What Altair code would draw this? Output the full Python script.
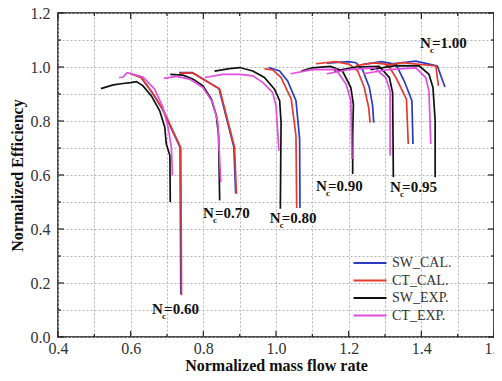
import altair as alt
import pandas as pd

# ---------------- data ----------------
series_order = ["SW_CAL.", "CT_CAL.", "SW_EXP.", "CT_EXP."]
series_colors = ["#2b3cc0", "#e63a2e", "#111111", "#e24fe0"]

# Nc = 0.60
sw_exp_060 = [(0.518, 0.920), (0.552, 0.934), (0.579, 0.939), (0.600, 0.942), (0.616, 0.946),
              (0.634, 0.930), (0.657, 0.893), (0.680, 0.838), (0.694, 0.776), (0.698, 0.715),
              (0.708, 0.672), (0.709, 0.500)]
ct_exp_060 = [(0.568, 0.961), (0.579, 0.963), (0.590, 0.979), (0.607, 0.973), (0.634, 0.963),
              (0.666, 0.918), (0.689, 0.850), (0.703, 0.776), (0.712, 0.702), (0.715, 0.598)]
ct_cal_060 = [(0.600, 0.975), (0.630, 0.960), (0.660, 0.905), (0.690, 0.840), (0.733, 0.715),
              (0.738, 0.700), (0.740, 0.155)]
sw_cal_060 = [(0.598, 0.977), (0.628, 0.962), (0.658, 0.907), (0.688, 0.842), (0.731, 0.717),
              (0.736, 0.702), (0.738, 0.158)]

# Nc = 0.70
sw_exp_070 = [(0.709, 0.973), (0.744, 0.970), (0.772, 0.955), (0.799, 0.930), (0.822, 0.881),
              (0.836, 0.819), (0.842, 0.745), (0.845, 0.506)]
ct_exp_070 = [(0.691, 0.958), (0.726, 0.965), (0.762, 0.955), (0.799, 0.924), (0.826, 0.868),
              (0.840, 0.794), (0.848, 0.573)]
ct_cal_070 = [(0.735, 0.977), (0.772, 0.977), (0.845, 0.918), (0.886, 0.702), (0.891, 0.530)]
sw_cal_070 = [(0.733, 0.979), (0.770, 0.979), (0.843, 0.920), (0.884, 0.704), (0.889, 0.532)]

# Nc = 0.80
sw_exp_080 = [(0.831, 0.985), (0.872, 0.994), (0.900, 0.998), (0.936, 0.985), (0.968, 0.961),
              (0.996, 0.918), (1.010, 0.875), (1.014, 0.794), (1.013, 0.650), (1.012, 0.475)]
ct_exp_080 = [(0.804, 0.961), (0.854, 0.973), (0.900, 0.973), (0.936, 0.967), (0.964, 0.942),
              (0.991, 0.905), (1.000, 0.856), (1.008, 0.690)]
ct_cal_080 = [(0.968, 0.994), (0.991, 0.989), (1.014, 0.961), (1.042, 0.881), (1.055, 0.745),
              (1.057, 0.478)]
sw_cal_080 = [(0.980, 0.998), (1.010, 0.985), (1.032, 0.948), (1.055, 0.875), (1.065, 0.733),
              (1.066, 0.478)]

# Nc = 0.90
sw_exp_090 = [(1.070, 0.985), (1.100, 0.997), (1.150, 1.002), (1.183, 0.985), (1.206, 0.924),
              (1.213, 0.862), (1.211, 0.752), (1.211, 0.604)]
ct_exp_090 = [(1.040, 0.975), (1.100, 0.990), (1.165, 0.991), (1.193, 0.936), (1.206, 0.875),
              (1.209, 0.659)]
ct_cal_090 = [(1.110, 1.012), (1.165, 1.020), (1.202, 1.010), (1.225, 0.985), (1.243, 0.924),
              (1.255, 0.850), (1.259, 0.794)]
sw_cal_090 = [(1.140, 1.014), (1.200, 1.020), (1.220, 1.016), (1.238, 0.991), (1.257, 0.924),
              (1.266, 0.856), (1.269, 0.794)]

# Nc = 0.95
sw_exp_095 = [(1.160, 0.985), (1.220, 1.000), (1.284, 1.002), (1.312, 0.961), (1.321, 0.905),
              (1.323, 0.592)]
ct_exp_095 = [(1.140, 0.975), (1.200, 0.990), (1.270, 0.997), (1.302, 0.961), (1.314, 0.911),
              (1.314, 0.672)]
ct_cal_095 = [(1.220, 1.005), (1.270, 1.015), (1.307, 1.010), (1.330, 0.961), (1.359, 0.881),
              (1.364, 0.715)]
sw_cal_095 = [(1.240, 1.010), (1.290, 1.020), (1.330, 1.010), (1.353, 0.948), (1.374, 0.875),
              (1.377, 0.715)]

# Nc = 1.00
sw_exp_100 = [(1.260, 0.990), (1.330, 1.005), (1.394, 1.004), (1.421, 0.973), (1.432, 0.924),
              (1.438, 0.801), (1.438, 0.592)]
ct_exp_100 = [(1.240, 0.975), (1.310, 0.990), (1.385, 0.997), (1.412, 0.961), (1.421, 0.911),
              (1.426, 0.715)]
ct_cal_100 = [(1.300, 1.005), (1.348, 1.016), (1.440, 1.004), (1.447, 0.930)]
sw_cal_100 = [(1.320, 1.012), (1.385, 1.022), (1.444, 1.004), (1.465, 0.926)]

# speed-line labels (left edge of the "N")
label_speeds = ["0.60", "0.70", "0.80", "0.90", "0.95", "1.00"]
label_x = [0.659, 0.799, 0.983, 1.110, 1.314, 1.396]
label_y = [0.104, 0.458, 0.439, 0.561, 0.554, 1.089]

x_grid_values = [0.4, 0.5, 0.6, 0.7, 0.8, 0.9, 1.0, 1.1, 1.2, 1.3, 1.4, 1.5, 1.6]
x_major_ticks = [0.4, 0.6, 0.8, 1.0, 1.2, 1.4, 1.6]
x_minor_ticks = [0.5, 0.7, 0.9, 1.1, 1.3, 1.5]
y_grid_values = [0.0, 0.1, 0.2, 0.3, 0.4, 0.5, 0.6, 0.7, 0.8, 0.9, 1.0, 1.1, 1.2]
y_major_ticks = [0.0, 0.2, 0.4, 0.6, 0.8, 1.0, 1.2]
y_minor_ticks = [0.1, 0.3, 0.5, 0.7, 0.9, 1.1]

# ---------------- build tables ----------------
curves = {
    "SW_CAL.": [("060", sw_cal_060), ("070", sw_cal_070), ("080", sw_cal_080),
                ("090", sw_cal_090), ("095", sw_cal_095), ("100", sw_cal_100)],
    "CT_CAL.": [("060", ct_cal_060), ("070", ct_cal_070), ("080", ct_cal_080),
                ("090", ct_cal_090), ("095", ct_cal_095), ("100", ct_cal_100)],
    "SW_EXP.": [("060", sw_exp_060), ("070", sw_exp_070), ("080", sw_exp_080),
                ("090", sw_exp_090), ("095", sw_exp_095), ("100", sw_exp_100)],
    "CT_EXP.": [("060", ct_exp_060), ("070", ct_exp_070), ("080", ct_exp_080),
                ("090", ct_exp_090), ("095", ct_exp_095), ("100", ct_exp_100)],
}
rows = []
for s, lst in curves.items():
    for sp, pts in lst:
        for i, (x, y) in enumerate(pts):
            rows.append({"series": s, "curve": s + sp, "idx": i, "x": x, "y": y})
df = pd.DataFrame(rows)

FONT = "Times New Roman, Liberation Serif, serif"
W, H = 436, 324
xs = alt.Scale(domain=[0.4, 1.6], nice=False, zero=False)
ys = alt.Scale(domain=[0.0, 1.2], nice=False, zero=False)
cs = alt.Scale(domain=series_order, range=series_colors)

even_label = "(round(datum.value*10) % 2 == 0) ? format(datum.value, '.1f') : ''"
x_axis = alt.Axis(values=x_grid_values, labelExpr=even_label, ticks=False, domain=False,
                  grid=True, gridDash=[2, 2], gridColor="#b5b5b5", gridWidth=1,
                  title="Normalized mass flow rate", labelFont=FONT,
                  labelFontSize=16, labelColor="#333", labelPadding=3,
                  titleFont=FONT, titleFontSize=16, titleFontWeight="bold",
                  titleColor="#111", titlePadding=1, labelFlush=False)
y_axis = alt.Axis(values=y_grid_values, labelExpr=even_label, ticks=False, domain=False,
                  grid=True, gridDash=[2, 2], gridColor="#b5b5b5", gridWidth=1,
                  title="Normalized Efficiency", labelFont=FONT,
                  labelFontSize=16, labelColor="#333", labelPadding=8,
                  titleFont=FONT, titleFontSize=16, titleFontWeight="bold",
                  titleColor="#111", titlePadding=5)

X = lambda f: alt.X(f, scale=xs, axis=x_axis)
Y = lambda f: alt.Y(f, scale=ys, axis=y_axis)

legend = alt.Legend(title=None, orient="none", legendX=305, legendY=243,
                    symbolType="M-5,0H5", symbolSize=43.56,
                    symbolStrokeWidth=2.2, labelFont=FONT,
                    labelFontSize=14, labelColor="#333",
                    rowPadding=3.5, labelOffset=15, padding=0)

layers = []
for s in series_order:
    layers.append(alt.Chart(df[df.series == s]).mark_line(strokeWidth=1.7).encode(
        x=X("x:Q"), y=Y("y:Q"),
        color=alt.Color("series:N", scale=cs, sort=series_order, legend=legend),
        detail="curve:N", order="idx:Q"))

# inward ticks on all four sides
def tick_layer(vals, axis, length, side):
    d = pd.DataFrame({"v": vals})
    if axis == "x":
        y0 = H if side == "low" else 0
        y1 = H - length if side == "low" else length
        return alt.Chart(d).mark_rule(color="#222", strokeWidth=1.2).encode(
            x=X("v:Q"), y=alt.value(y0), y2=alt.value(y1))
    x0 = 0 if side == "low" else W
    x1 = length if side == "low" else W - length
    return alt.Chart(d).mark_rule(color="#222", strokeWidth=1.2).encode(
        y=Y("v:Q"), x=alt.value(x0), x2=alt.value(x1))

ticks = []
for side in ["low", "high"]:
    ticks.append(tick_layer(x_major_ticks, "x", 6, side))
    ticks.append(tick_layer(x_minor_ticks, "x", 3, side))
    ticks.append(tick_layer(y_major_ticks, "y", 6, side))
    ticks.append(tick_layer(y_minor_ticks, "y", 3, side))

lab = pd.DataFrame({"x": label_x, "y": label_y,
                    "rest": ["=" + s for s in label_speeds]})
lab_n = alt.Chart(lab).mark_text(text="N", align="left", baseline="middle", font=FONT,
                                 fontSize=15, fontWeight="bold", color="#111").encode(
    x=X("x:Q"), y=Y("y:Q"))
lab_c = alt.Chart(lab).mark_text(text="c", align="left", baseline="middle", font=FONT,
                                 fontSize=9, fontWeight="bold", color="#111", dx=10, dy=7).encode(
    x=X("x:Q"), y=Y("y:Q"))
lab_r = alt.Chart(lab).mark_text(align="left", baseline="middle", font=FONT,
                                 fontSize=15, fontWeight="bold", color="#111", dx=12).encode(
    x=X("x:Q"), y=Y("y:Q"), text="rest:N")

chart = alt.layer(*layers, *ticks, lab_n, lab_c, lab_r).properties(
    width=W, height=H,
    autosize=alt.AutoSizeParams(type="none"),
    padding={"left": 50, "top": 5, "right": 0, "bottom": 42},
    background="white",
).configure_view(stroke="#111", strokeWidth=1.5)

chart.save("out.html", embed_options={"renderer": "svg", "actions": False})
